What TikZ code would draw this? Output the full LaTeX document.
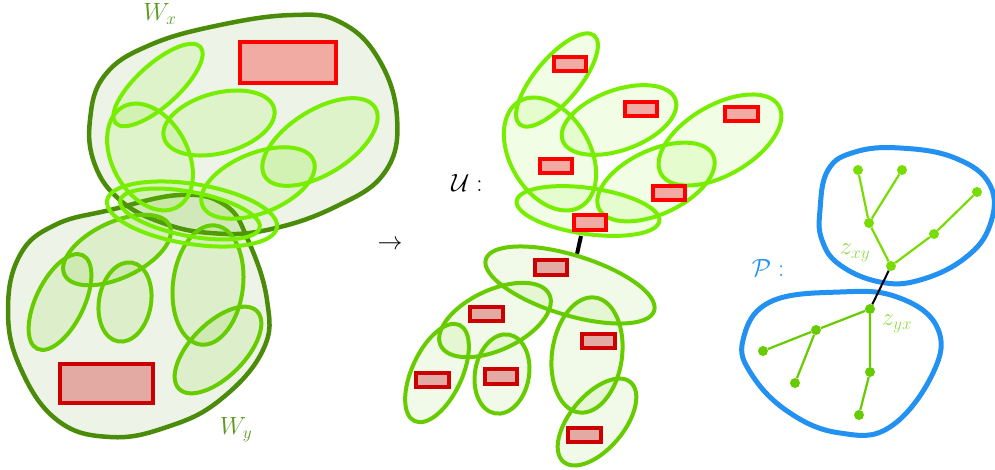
\documentclass[tikz,border=0pt]{standalone}
\usetikzlibrary{calc}
\definecolor{dgreen}{HTML}{4A8C0A}
\definecolor{lblgreen}{HTML}{5A9A1E}
\definecolor{bgreen}{HTML}{77EE00}
\definecolor{mgreen}{HTML}{66CC00}
\definecolor{rred}{HTML}{FF0000}
\definecolor{dred}{HTML}{CC0000}
\definecolor{rfill}{HTML}{F2ABA2}
\definecolor{dfill}{HTML}{E3AAA3}
\definecolor{pblue}{HTML}{2291F2}
\definecolor{zgreen}{HTML}{8EDD44}
\definecolor{tgreen}{HTML}{77DD00}
\newcommand\elp[6]{\draw[#1, rotate around={#6:(#2,#3)}] (#2,#3) ellipse [x radius=#4, y radius=#5];}
\tikzset{
  bigblob/.style={draw=dgreen, line width=4.5pt, fill=dgreen, fill opacity=0.1, draw opacity=1},
  bel/.style={draw=bgreen, line width=4pt, fill=bgreen, fill opacity=0.12, draw opacity=1},
  oel/.style={draw=bgreen, line width=4pt, fill=bgreen, fill opacity=0.05, draw opacity=1},
  mel/.style={draw=mgreen, line width=4pt, fill=mgreen, fill opacity=0.12, draw opacity=1},
  bell/.style={draw=bgreen, line width=4pt, fill=bgreen, fill opacity=0.1, draw opacity=1},
  mell/.style={draw=mgreen, line width=4pt, fill=mgreen, fill opacity=0.09, draw opacity=1},
  bigred/.style={draw=rred, line width=4.5pt, fill=rfill},
  bigdred/.style={draw=dred, line width=4.5pt, fill=dfill},
  sred/.style={draw=rred, line width=4pt, fill=rfill},
  sdred/.style={draw=dred, line width=4pt, fill=dfill},
  pblob/.style={draw=pblue, line width=5pt},
  tdot/.style={circle, fill=#1, inner sep=0pt, minimum size=10pt},
  tedge/.style={draw=#1, line width=2.2pt},
  lab/.style={font=\fontsize{26}{30}\selectfont, inner sep=0pt},
}
\begin{document}
\begin{tikzpicture}[x=1pt,y=-1pt]
\useasboundingbox (0,0) rectangle (995,469);
% ---- W_x and W_y blobs
\draw[bigblob] plot[smooth cycle, tension=0.7] coordinates {(90,120) (105,75) (150,45) (220,25) (293,15) (340,22) (378,58) (397,117) (385,172) (335,207) (267,230) (210,233) (160,222) (120,200) (95,165)};
\draw[bigblob] plot[smooth cycle, tension=0.7] coordinates {(8,310) (20,255) (55,225) (110,210) (180,195) (225,205) (248,240) (267,300) (263,350) (220,400) (167,427) (110,437) (57,420) (20,367)};
\node[lab, text=lblgreen] (wx) at (160,14) {$W_x$};
\node[lab, text=lblgreen] (wy) at (236,430) {$W_y$};
% ---- W_x ellipses
\elp{bel}{158}{85}{57}{21}{42}
\elp{bel}{150}{157}{57}{38}{-62}
\elp{bel}{219}{123}{57}{30}{15}
\elp{bel}{320}{142}{65}{32}{32}
\elp{bel}{258}{183}{60}{30}{22}
% ---- W_y ellipses
\elp{mel}{117}{250}{58}{28}{25}
\elp{mel}{60}{302}{52}{24}{64}
\elp{mel}{125}{302}{40}{26}{80}
\elp{mel}{208}{285}{60}{35}{83}
\elp{mel}{218}{350}{55}{27}{45}
% ---- overlap ellipses
\elp{oel}{192}{214}{86}{30}{-9}
\elp{oel}{190}{214}{71}{22}{-11}
% ---- big red rectangles
\draw[bigred] (240,42) rectangle (336,83);
\draw[bigdred] (60,364) rectangle (153,403);
% ---- arrow
\node[lab] (arr) at (390,245) {$\rightarrow$};
% ---- U label
\node[lab] (ulab) at (467,183) {$\mathcal{U}:$};
% ---- link between groups
\coordinate (ltop) at (581,236);
\coordinate (lbot) at (577,254);
\draw[line width=4pt, black] (ltop) -- (lbot);
% ---- upper group
\elp{bell}{557}{80}{58}{22}{50}
\elp{bell}{550}{154}{61}{40}{-60}
\elp{bell}{619}{120}{60}{30}{20}
\elp{bell}{720}{140}{68}{35}{30}
\elp{bell}{656}{182}{63}{32}{25}
\elp{bell}{588}{211}{72}{23}{-8}
\draw[sred] (554,57) rectangle (586,71);
\draw[sred] (540,159) rectangle (572,173);
\draw[sred] (625,102) rectangle (657,116);
\draw[sred] (725,107) rectangle (758,121);
\draw[sred] (653,186) rectangle (685,200);
\draw[sred] (574,215) rectangle (606,230);
% ---- lower group
\elp{mell}{570}{285}{88}{30}{-17}
\elp{mell}{495}{320}{60}{30}{25}
\elp{mell}{437}{373}{53}{25}{65}
\elp{mell}{502}{374}{40}{27}{80}
\elp{mell}{587}{355}{58}{35}{82}
\elp{mell}{597}{422}{52}{27}{50}
\draw[sdred] (535,260) rectangle (567,275);
\draw[sdred] (470,307) rectangle (503,321);
\draw[sdred] (416,373) rectangle (449,387);
\draw[sdred] (485,369) rectangle (517,384);
\draw[sdred] (582,334) rectangle (615,348);
\draw[sdred] (568,428) rectangle (601,442);
% ---- P blobs
\node[lab, text=pblue] (plab) at (768,268) {$\mathcal{P}:$};
\draw[pblob] plot[smooth cycle, tension=0.7] coordinates {(820,210) (828,170) (855,152) (900,148) (955,158) (990,185) (990,225) (965,258) (920,280) (880,282) (840,265) (822,240)};
\draw[pblob] plot[smooth cycle, tension=0.7] coordinates {(743,340) (770,302) (840,292) (897,297) (937,327) (933,373) (890,427) (840,433) (790,413) (752,375)};
% ---- trees
\node[tdot=tgreen] (a) at (858,170) {};
\node[tdot=tgreen] (b) at (902,170) {};
\node[tdot=tgreen] (c) at (977,192) {};
\node[tdot=tgreen] (d) at (869,223) {};
\node[tdot=tgreen] (e) at (934,234) {};
\node[tdot=tgreen] (f) at (891,266) {};
\node[tdot=mgreen] (g) at (870,309) {};
\node[tdot=mgreen] (h) at (816,330) {};
\node[tdot=mgreen] (i) at (763,351) {};
\node[tdot=mgreen] (j) at (795,383) {};
\node[tdot=mgreen] (k) at (870,372) {};
\node[tdot=mgreen] (l) at (859,415) {};
\draw[tedge=tgreen] (a) -- (d) (b) -- (d) (d) -- (f) (c) -- (e) (e) -- (f);
\draw[tedge=mgreen] (g) -- (h) (h) -- (i) (h) -- (j) (g) -- (k) (k) -- (l);
\draw[line width=2pt, black] (f) -- (g);
\node[lab, text=zgreen] (zxy) at (855,253) {$z_{xy}$};
\node[lab, text=zgreen] (zyx) at (897,324) {$z_{yx}$};
\end{tikzpicture}
\end{document}
